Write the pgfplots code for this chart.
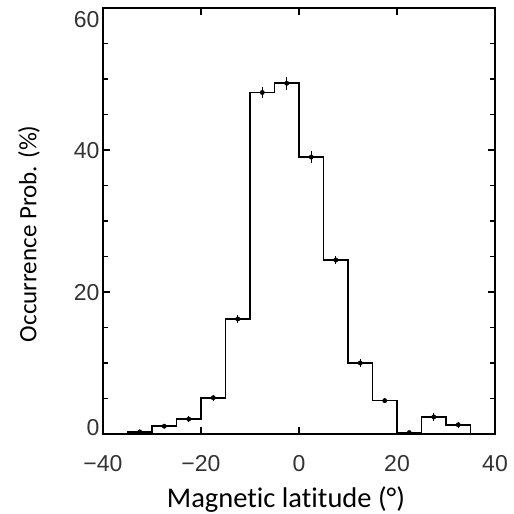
\documentclass[border=0pt]{standalone}
\usepackage{pgfplots}
\pgfplotsset{compat=1.18}
\usepackage{fontspec}
\setmainfont[Ligatures={NoCommon}]{Carlito}
\newfontfamily\tickfont{Liberation Sans}
\begin{document}
\begin{tikzpicture}
\begin{axis}[
    scale only axis,
    width=392pt, height=426pt,
    xmin=-40, xmax=40, ymin=0, ymax=60,
    xtick={-40,-20,0,20,40},
    xticklabels={−40,−20,0,20,40},
    ytick={0,20,40,60},
    yticklabels={\raisebox{-1.5pt}[0pt][0pt]{0},
                 \raisebox{-8.3pt}[0pt][0pt]{20},
                 \raisebox{-8.3pt}[0pt][0pt]{40},
                 \raisebox{-19.5pt}[0pt][0pt]{60}},
    minor y tick num=3,
    tick align=inside,
    major tick length=7pt,
    minor tick length=5pt,
    axis line style={line width=1.8pt},
    every tick/.style={black, line width=1.4pt},
    tick label style={font=\tickfont\fontsize{23}{23}\selectfont, text=black!80},
    xticklabel style={yshift=-18pt},
    xlabel={Magnetic latitude (°)},
    ylabel={Occurrence Prob. (\%)},
    xlabel style={font=\fontsize{28.5}{28.5}\selectfont,
        at={([shift={(-13pt,-73pt)}]rel axis cs:0.5,0)}, anchor=base},
    ylabel style={font=\fontsize{25}{25}\selectfont,
        at={([xshift=-74pt]rel axis cs:0,0.47)}, anchor=center},
    clip=false,
]
\addplot[const plot, black, line width=1.7pt] coordinates {
    (-35,0) (-35,0.3) (-30,1.1) (-25,2.1) (-20,5.1) (-15,16.2)
    (-10,48.1) (-5,49.4) (0,39.0) (5,24.5) (10,10.0) (15,4.7)
    (20,0.2) (25,2.4) (30,1.3) (35,1.3) (35,0)
};
\addplot[only marks, black, mark=*, mark size=2.2pt,
    error bars/.cd, y dir=both, y explicit,
    error bar style={line width=1.4pt}, error mark=none]
    coordinates {
    (-32.5,0.3) +- (0,0.2)
    (-27.5,1.1) +- (0,0.3)
    (-22.5,2.1) +- (0,0.4)
    (-17.5,5.1) +- (0,0.4)
    (-12.5,16.2) +- (0,0.5)
    (-7.5,48.1) +- (0,0.8)
    (-2.5,49.4) +- (0,0.9)
    (2.5,39.0) +- (0,0.8)
    (7.5,24.5) +- (0,0.6)
    (12.5,10.0) +- (0,0.5)
    (17.5,4.7) +- (0,0.4)
    (22.5,0.2) +- (0,0.2)
    (27.5,2.4) +- (0,0.5)
    (32.5,1.3) +- (0,0.4)
};
\coordinate (sw) at (rel axis cs:0,0);
\coordinate (ne) at (rel axis cs:1,1);
\end{axis}
\pgfresetboundingbox
\path ([shift={(-103pt,-80pt)}]sw) rectangle ([shift={(18pt,8pt)}]ne);
\end{tikzpicture}
\end{document}
